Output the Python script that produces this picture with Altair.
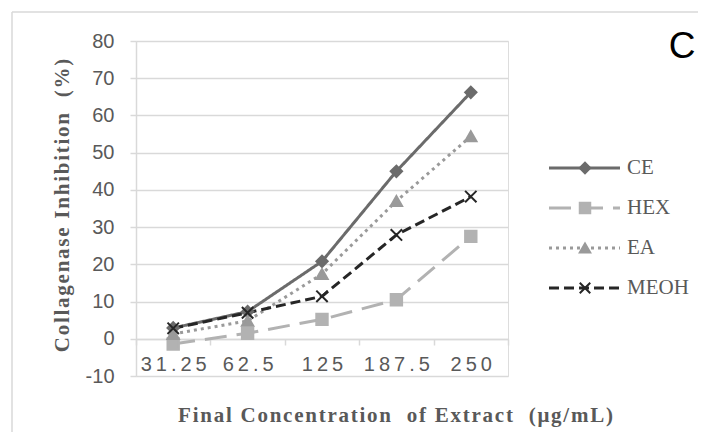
import altair as alt
import pandas as pd

categories = ["31.25", "62.5", "125", "187.5", "250"]
series_names = ["CE", "HEX", "EA", "MEOH"]
ce = [2.9, 7.3, 20.8, 45.0, 66.2]
hex_ = [-1.4, 1.5, 5.2, 10.5, 27.5]
ea = [1.3, 4.8, 17.4, 37.0, 54.4]
meoh = [2.8, 7.0, 11.4, 27.9, 38.2]
y_ticks = [-10, 0, 10, 20, 30, 40, 50, 60, 70, 80]

colors = ["#6b6b6b", "#b2b2b2", "#9a9a9a", "#262626"]
dashes = [[1, 0], [22, 10], [3, 4], [10, 5]]
shapes = ["diamond", "square", "triangle-up", "M-1,-1L1,1M-1,1L1,-1"]

rows = []
for name, vals in zip(series_names, [ce, hex_, ea, meoh]):
    for c, v in zip(categories, vals):
        rows.append({"conc": c, "value": v, "series": name})
df = pd.DataFrame(rows)
leg_df = pd.DataFrame({"series": series_names})

color_scale = alt.Scale(domain=series_names, range=colors)
dash_scale = alt.Scale(domain=series_names, range=dashes)
shape_scale = alt.Scale(domain=series_names, range=shapes)


def spaced(s):
    # widen the text a little, like the reference's loose letter spacing
    return "\u200a".join(s.replace("  ", " \u00a0"))


x_title = spaced("Final Concentration  of Extract  (μg/mL)")
y_title = spaced("Collagenase Inhibition  (%)")

x_enc = alt.X(
    "conc:N",
    sort=categories,
    scale=alt.Scale(type="band", paddingInner=0, paddingOuter=0),
    axis=alt.Axis(
        title=x_title,
        labelAngle=0,
        labelExpr="join(split(datum.label, ''), '\u2009')",
        labelFont="Liberation Sans",
        labelFontSize=20,
        labelColor="#595959",
        labelPadding=9,
        tickBand="extent",
        tickSize=6,
        tickColor="#d9d9d9",
        tickWidth=1.5,
        domainColor="#d9d9d9",
        domainWidth=1.5,
        offset=-37,
        grid=False,
        titleFont="Liberation Serif",
        titleFontSize=21,
        titleFontWeight="bold",
        titleColor="#595959",
        titleX=259,
        titleY=76,
        titleBaseline="middle",
    ),
)
y_enc = alt.Y(
    "value:Q",
    scale=alt.Scale(domain=[-10, 80], nice=False, zero=False),
    axis=alt.Axis(
        values=y_ticks,
        tickCount=20,
        labelOverlap=False,
        labelExpr="datum.value < 0 ? '-' + abs(datum.value) : '' + datum.value",
        title=y_title,
        labelFont="Liberation Sans",
        labelFontSize=20,
        labelColor="#595959",
        labelPadding=16,
        tickSize=6,
        tickColor="#d9d9d9",
        tickWidth=1.5,
        domainColor="#d9d9d9",
        domainWidth=1.5,
        grid=True,
        gridColor="#d9d9d9",
        gridWidth=1.5,
        titleFont="Liberation Serif",
        titleFontSize=21,
        titleFontWeight="bold",
        titleColor="#595959",
        titleX=-74,
        titleY=164,
        titleAngle=-90,
        titleAlign="center",
        titleBaseline="middle",
    ),
)

base = alt.Chart(df)
lines = base.mark_line(strokeWidth=3, strokeCap="butt").encode(
    x=x_enc,
    y=y_enc,
    color=alt.Color("series:N", scale=color_scale, legend=None),
    strokeDash=alt.StrokeDash("series:N", scale=dash_scale, legend=None),
    detail="series:N",
)
points = base.mark_point(filled=True, size=130, strokeWidth=2, opacity=1).encode(
    x=alt.X("conc:N", sort=categories),
    y=alt.Y("value:Q"),
    fill=alt.Fill("series:N", scale=color_scale, legend=None),
    stroke=alt.Stroke("series:N", scale=color_scale, legend=None),
    shape=alt.Shape("series:N", scale=shape_scale, legend=None),
)
main = alt.layer(lines, points)

leg_y = alt.Y(
    "series:N",
    scale=alt.Scale(type="point", domain=series_names, range=[127, 247], padding=0),
    axis=None,
)
leg_base = alt.Chart(leg_df)
leg_rule = leg_base.mark_rule(strokeWidth=3, strokeCap="butt").encode(
    x=alt.value(413),
    x2=alt.value(484),
    y=leg_y,
    color=alt.Color("series:N", scale=color_scale, legend=None),
    strokeDash=alt.StrokeDash("series:N", scale=dash_scale, legend=None),
)
leg_pt = leg_base.mark_point(filled=True, size=110, strokeWidth=2, opacity=1).encode(
    x=alt.value(449),
    y=leg_y,
    fill=alt.Fill("series:N", scale=color_scale, legend=None),
    stroke=alt.Stroke("series:N", scale=color_scale, legend=None),
    shape=alt.Shape("series:N", scale=shape_scale, legend=None),
)
leg_txt = leg_base.mark_text(
    align="left", baseline="middle", font="Liberation Serif", fontSize=21, color="#595959"
).encode(x=alt.value(491), y=leg_y, text="series:N")
legend = alt.layer(leg_rule, leg_pt, leg_txt)

frame_top = alt.Chart(leg_df.head(1)).mark_rule(color="#d9d9d9", strokeWidth=1.5).encode(
    x=alt.value(-124), x2=alt.value(570), y=alt.value(-29)
)
frame_left = alt.Chart(leg_df.head(1)).mark_rule(color="#d9d9d9", strokeWidth=1.5).encode(
    x=alt.value(-124), y=alt.value(-29), y2=alt.value(400)
)
letter = alt.Chart(leg_df.head(1)).mark_text(
    text="C", font="Liberation Sans", fontSize=37, color="#000000", align="center", baseline="alphabetic"
).encode(x=alt.value(546), y=alt.value(17))

chart = (
    alt.layer(frame_top, frame_left, main, legend, letter)
    .resolve_scale(y="independent")
    .properties(
        width=372,
        height=335,
        autosize=alt.AutoSizeParams(type="none"),
        padding={"left": 128, "top": 33, "right": 190, "bottom": 56},
    )
    .configure_view(stroke=None)
    .configure(background="white")
)

chart.save("out.html", embed_options={"renderer": "svg", "actions": False})
